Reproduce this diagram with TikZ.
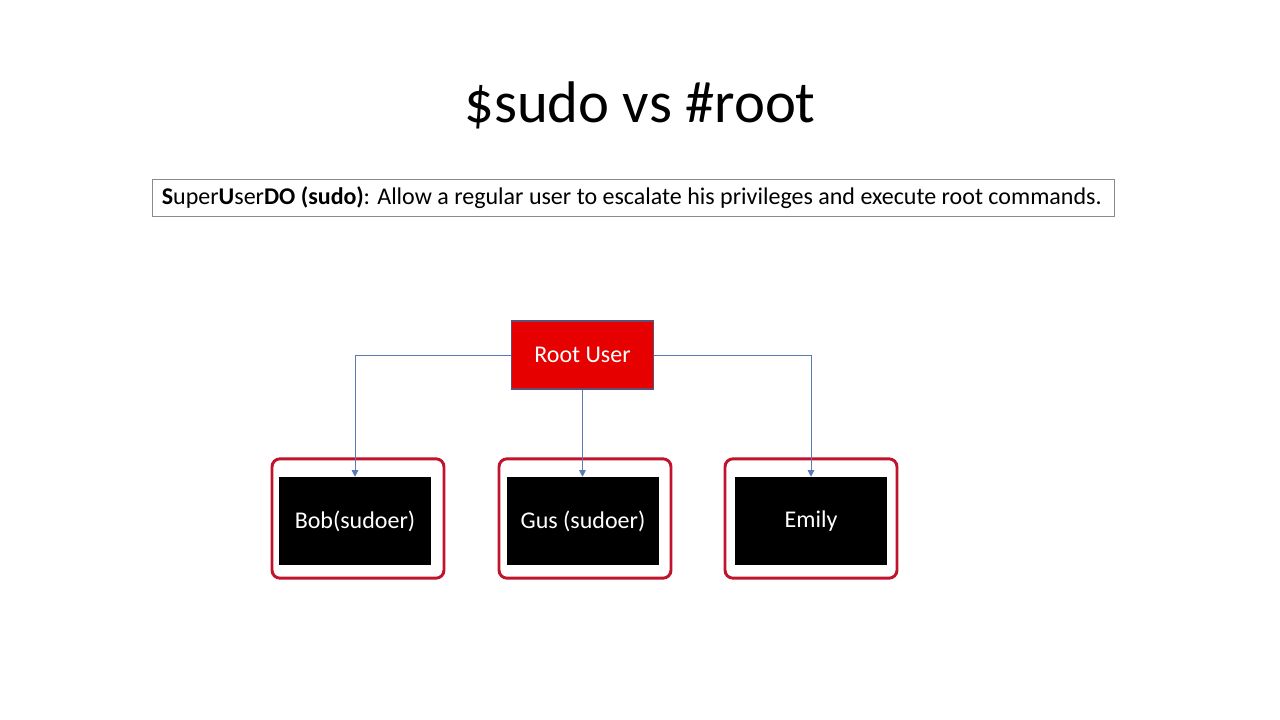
\documentclass[tikz,border=0pt]{standalone}
\usepackage{fontspec}
\setmainfont{Carlito}
\usetikzlibrary{arrows.meta}
\definecolor{rootred}{HTML}{E60000}
\definecolor{rootedge}{HTML}{5E4E78}
\definecolor{frame}{HTML}{C0142C}
\definecolor{link}{HTML}{5B7AB3}
\definecolor{descedge}{HTML}{8A8A8A}
\tikzset{
  outerbox/.style={draw=frame, line width=2.2pt, rounded corners=6pt, minimum width=129pt, minimum height=89.5pt, inner sep=0pt},
  userbox/.style={fill=black, draw=none, text=white, minimum width=114pt, minimum height=66pt, inner sep=0pt, font=\fontsize{18}{21}\selectfont},
  rootbox/.style={fill=rootred, draw=rootedge, line width=0.8pt, text=white, minimum width=107pt, minimum height=51pt, inner sep=0pt, font=\fontsize{18}{21}\selectfont},
  conn/.style={draw=link, line width=0.65pt, -{Triangle[width=5pt,length=5pt]}},
}
\begin{document}
\begin{tikzpicture}[x=0.75pt,y=-0.75pt]
\useasboundingbox (0,0) rectangle (1280,720);
\node[font=\fontsize{44}{50}\selectfont] (title) at (640,105) {\$sudo vs \#root};
\node[draw=descedge, line width=0.6pt, minimum width=721.5pt, minimum height=27.75pt, inner sep=0pt] (desc) at (633,197.5) {};
\node[anchor=west, inner sep=0pt, font=\fontsize{18}{21}\selectfont] (desctext) at ([xshift=7.5pt]desc.west)
  {\textbf{S}uper\textbf{U}ser\textbf{DO (sudo)}: Allow a regular user to escalate his privileges and execute root commands.};
\node[rootbox] (root) at (582.5,355) {Root User};
\node[outerbox] (bobf) at (358,518.5) {};
\node[outerbox] (gusf) at (585,518.5) {};
\node[outerbox] (emf) at (811,518.5) {};
\node[userbox] (bob) at (355,521) {Bob(sudoer)};
\node[userbox] (gus) at (583,521) {Gus (sudoer)};
\node[userbox] (emily) at (811,521) {Emily};
\draw[conn] (root.west) -| (bob.north);
\draw[conn] (root.south) -- (root.south |- gus.north);
\draw[conn] (root.east) -| (emily.north);
\end{tikzpicture}
\end{document}
